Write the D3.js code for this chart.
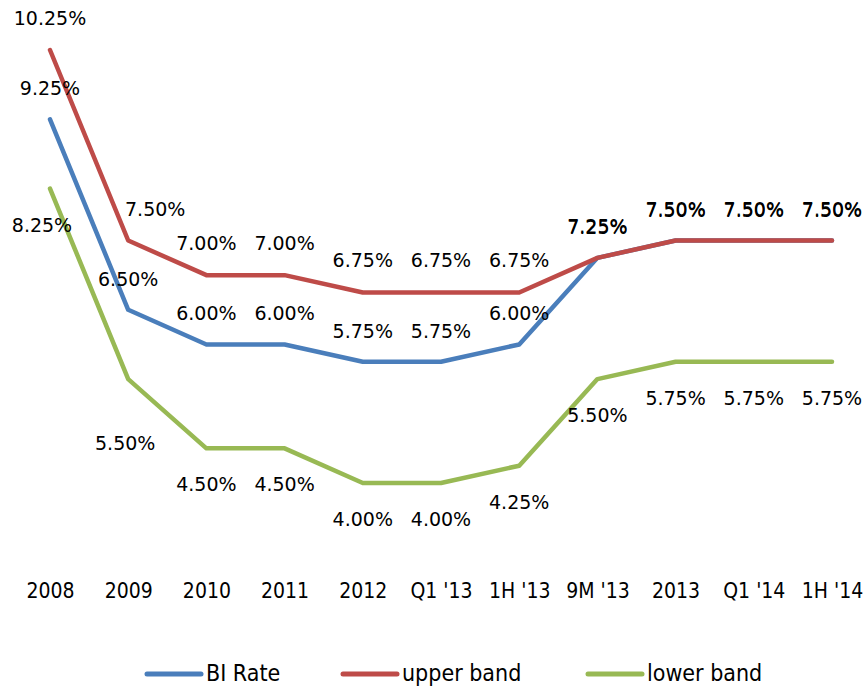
<!DOCTYPE html>
<html><head><meta charset="utf-8">
<script src="https://cdn.jsdelivr.net/npm/d3@7"></script>
<style>body{margin:0;background:#fff}</style>
</head><body>
<svg id="c" width="865" height="688"></svg>
<script>
const categories = ["2008","2009","2010","2011","2012","Q1 '13","1H '13","9M '13","2013","Q1 '14","1H '14"];
const biRate =     [9.25, 6.50, 6.00, 6.00, 5.75, 5.75, 6.00, 7.25, 7.50, 7.50, 7.50];
const upperBand =  [10.25, 7.50, 7.00, 7.00, 6.75, 6.75, 6.75, 7.25, 7.50, 7.50, 7.50];
const lowerBand =  [8.25, 5.50, 4.50, 4.50, 4.00, 4.00, 4.25, 5.50, 5.75, 5.75, 5.75];
const seriesNames = ["BI Rate","upper band","lower band"];

const colors = ["#4A7EBB","#BE4B48","#98B954"];
const svg = d3.select("#c");
const x = d3.scalePoint().domain(categories).range([50, 832]);
const y = d3.scaleLinear().domain([4, 10.25]).range([483, 50]);

const series = [
  {name: seriesNames[0], values: biRate, color: colors[0], dy: -31, adj: {}},
  {name: seriesNames[1], values: upperBand, color: colors[1], dy: -32, adj: {1: [27, 0]}},
  {name: seriesNames[2], values: lowerBand, color: colors[2], dy: 36, adj: {0: [-8, 0], 1: [-3, 28]}}
];

const line = d3.line().x((d,i)=>x(categories[i])).y(d=>y(d));
series.forEach(s=>{
  svg.append("path").attr("d", line(s.values)).attr("fill","none")
    .attr("stroke", s.color).attr("stroke-width", 4.5)
    .attr("stroke-linejoin","round").attr("stroke-linecap","round");
});

const labelFont = "'DejaVu Sans', Verdana, sans-serif";
series.forEach(s=>{
  s.values.forEach((v,i)=>{
    const a = s.adj[i] || [0,0];
    svg.append("text")
      .attr("x", x(categories[i]) + a[0])
      .attr("y", y(v) + s.dy + a[1])
      .attr("text-anchor","middle").attr("dominant-baseline","central")
      .attr("font-family", labelFont).attr("font-size", 19).attr("fill","#000")
      .text(v.toFixed(2) + "%");
  });
});

const axisG = svg.append("g").attr("transform","translate(0,577)");
const axis = d3.axisBottom(x).tickSize(0).tickPadding(6);
axisG.call(axis);
axisG.select(".domain").remove();
axisG.selectAll("text").attr("font-family","'DejaVu Sans Condensed', 'DejaVu Sans', sans-serif")
  .attr("font-size", 21).attr("fill","#000");

const legendX = [147, 343, 588];
const lg = svg.append("g");
series.forEach((s,i)=>{
  lg.append("line").attr("x1", legendX[i]).attr("x2", legendX[i]+54)
    .attr("y1", 674).attr("y2", 674).attr("stroke", s.color)
    .attr("stroke-width", 5).attr("stroke-linecap","round");
  lg.append("text").attr("x", legendX[i]+59).attr("y", 673)
    .attr("dominant-baseline","central")
    .attr("font-family","'DejaVu Sans Condensed', 'DejaVu Sans', sans-serif")
    .attr("font-size", 23).attr("fill","#000").text(s.name);
});
</script>
</body></html>
